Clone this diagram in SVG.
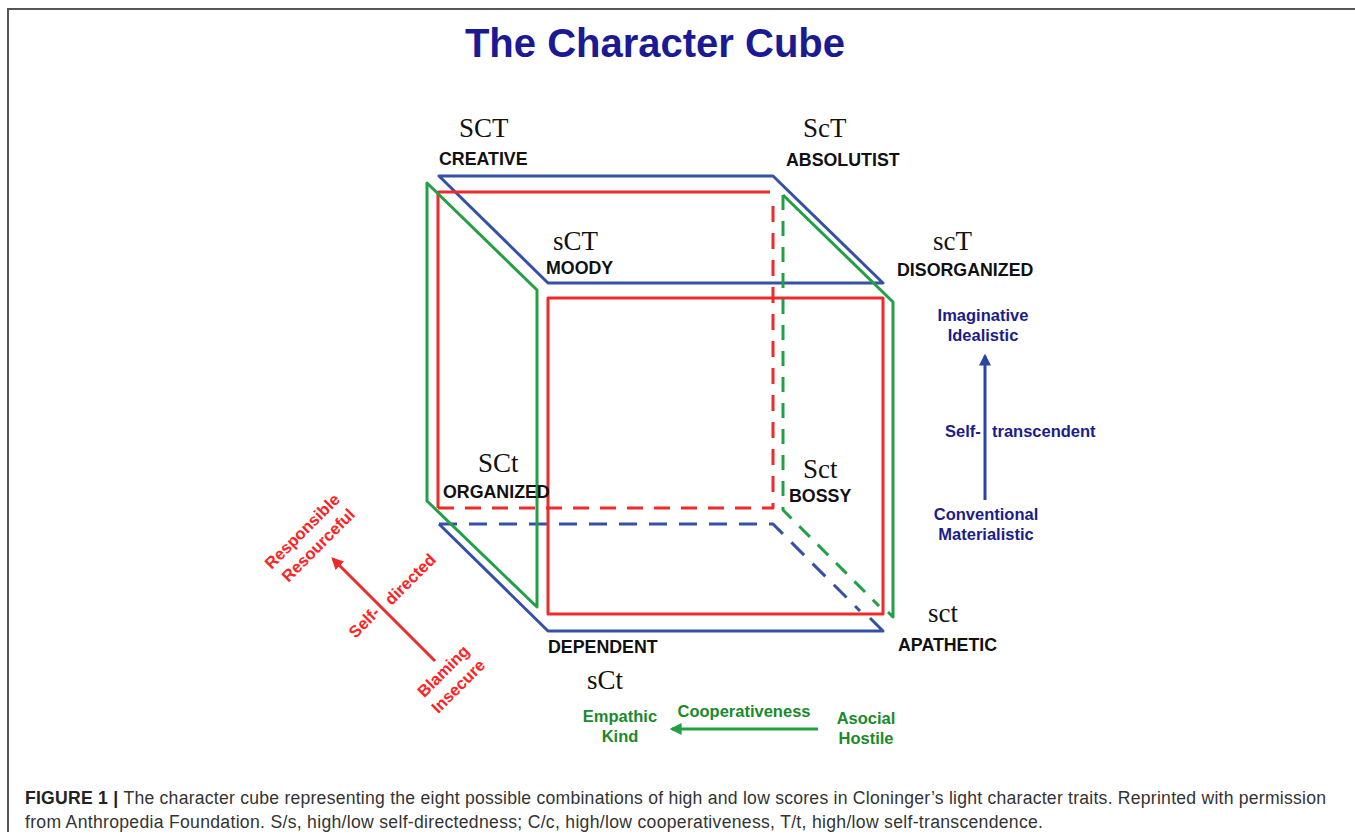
<svg xmlns="http://www.w3.org/2000/svg" width="1355" height="837" viewBox="0 0 1355 837">
<defs>
<style>
.bg{fill:#fff}
.frame{fill:none;stroke:#555;stroke-width:2}
.blue{fill:none;stroke:#3550a8;stroke-width:3;stroke-linejoin:round}
.red{fill:none;stroke:#ee2b2b;stroke-width:3;stroke-linejoin:round}
.green{fill:none;stroke:#22a045;stroke-width:3;stroke-linejoin:round}
.bd{stroke-dasharray:18 12}
.rd{stroke-dasharray:16 11}
.gd{stroke-dasharray:15 11}
.code{font-family:"Liberation Serif","Times New Roman",serif;font-size:27px;fill:#111}
.lab{font-family:"Liberation Sans",Arial,sans-serif;font-size:17.8px;font-weight:bold;fill:#111}
.t{font-family:"Liberation Sans",Arial,sans-serif;font-size:16.5px;font-weight:bold}
.nav{fill:#1c1c8c}
.grn{fill:#1a8a2c}
.rdt{fill:#ff2222}
.title{font-family:"Liberation Sans",Arial,sans-serif;font-size:40px;font-weight:bold;fill:#1a1a94}
.cap{font-family:"Liberation Sans",Arial,sans-serif;font-size:17.6px;fill:#333}
</style>
<marker id="ahR" viewBox="0 0 10 10" refX="8" refY="5" markerWidth="4" markerHeight="4" orient="auto" markerUnits="strokeWidth"><path d="M0,0 L10,5 L0,10 z" fill="#ee2b2b"/></marker>
<marker id="ahB" viewBox="0 0 10 10" refX="8" refY="5" markerWidth="4" markerHeight="4" orient="auto" markerUnits="strokeWidth"><path d="M0,0 L10,5 L0,10 z" fill="#2a45a0"/></marker>
<marker id="ahG" viewBox="0 0 10 10" refX="8" refY="5" markerWidth="4" markerHeight="4" orient="auto" markerUnits="strokeWidth"><path d="M0,0 L10,5 L0,10 z" fill="#22a045"/></marker>
</defs>
<rect class="bg" x="0" y="0" width="1355" height="837"/>
<path class="frame" d="M1355 9 H8 V832"/>
<text class="title" x="655" y="57" text-anchor="middle">The Character Cube</text>

<g id="cube">
<g id="blue-top"><polygon class="blue" points="439,176 773,176 883,283 548,283"/></g>
<g id="blue-bottom">
<path class="blue" d="M439 524 L548 631 H883 L870 618"/>
<path class="blue bd" d="M439 524 H773 L860 611"/>
</g>
<g id="red-back">
<path class="red" d="M770 192 H438 V508"/>
<path class="red rd" d="M438 508 H773 V200"/>
</g>
<g id="red-front"><rect class="red" x="548" y="298" width="335" height="316"/></g>
<g id="green-left"><polygon class="green" points="427,183 537,290 537,607 427,501"/></g>
<g id="green-right">
<path class="green" d="M783 195 L893 302 V617 L888 612"/>
<path class="green gd" d="M783 195 V510 L879 606"/>
</g>
</g>

<g id="node-SCT"><text class="code" x="459" y="137">SCT</text><text class="lab" x="439" y="165">CREATIVE</text></g>
<g id="node-ScT"><text class="code" x="803" y="137">ScT</text><text class="lab" x="786" y="166">ABSOLUTIST</text></g>
<g id="node-sCT"><text class="code" x="553" y="250">sCT</text><text class="lab" x="546" y="274">MOODY</text></g>
<g id="node-scT"><text class="code" x="933" y="250">scT</text><text class="lab" x="897" y="276">DISORGANIZED</text></g>
<g id="node-SCt"><text class="code" x="478" y="472">SCt</text><text class="lab" x="443" y="498">ORGANIZED</text></g>
<g id="node-Sct"><text class="code" x="803" y="478">Sct</text><text class="lab" x="789" y="502">BOSSY</text></g>
<g id="node-sCt"><text class="lab" x="548" y="653">DEPENDENT</text><text class="code" x="587" y="689">sCt</text></g>
<g id="node-sct"><text class="code" x="928" y="622">sct</text><text class="lab" x="898" y="651">APATHETIC</text></g>

<g id="connectors">
<line x1="985" y1="500" x2="985" y2="356" stroke="#2a45a0" stroke-width="3" marker-end="url(#ahB)"/>
<line x1="818" y1="729" x2="672" y2="729" stroke="#22a045" stroke-width="3" marker-end="url(#ahG)"/>
<line x1="435" y1="661" x2="333" y2="559" stroke="#ee2b2b" stroke-width="3" marker-end="url(#ahR)"/>
</g>

<g id="axis-T">
<text class="t nav" x="983" y="321" text-anchor="middle">Imaginative</text>
<text class="t nav" x="983" y="341" text-anchor="middle">Idealistic</text>
<text class="t nav" x="945" y="437">Self-</text>
<text class="t nav" x="992" y="437">transcendent</text>
<text class="t nav" x="986" y="520" text-anchor="middle">Conventional</text>
<text class="t nav" x="986" y="540" text-anchor="middle">Materialistic</text>
</g>

<g id="axis-C">
<text class="t grn" x="744" y="717" text-anchor="middle">Cooperativeness</text>
<text class="t grn" x="620" y="722" text-anchor="middle">Empathic</text>
<text class="t grn" x="620" y="742" text-anchor="middle">Kind</text>
<text class="t grn" x="866" y="724" text-anchor="middle">Asocial</text>
<text class="t grn" x="866" y="744" text-anchor="middle">Hostile</text>
</g>

<g id="axis-S">
<text class="t rdt" transform="translate(302,531) rotate(-45)" y="6" text-anchor="middle">Responsible</text>
<text class="t rdt" transform="translate(318,545) rotate(-45)" y="6" text-anchor="middle">Resourceful</text>
<text class="t rdt" transform="translate(364,622) rotate(-45)" y="6" text-anchor="middle">Self-</text>
<text class="t rdt" transform="translate(410,579) rotate(-45)" y="6" text-anchor="middle">directed</text>
<text class="t rdt" transform="translate(443,671) rotate(-45)" y="6" text-anchor="middle">Blaming</text>
<text class="t rdt" transform="translate(458,686) rotate(-45)" y="6" text-anchor="middle">Insecure</text>
</g>

<g id="caption">
<text class="cap" x="25" y="804" textLength="1301" lengthAdjust="spacing"><tspan font-weight="bold" fill="#222">FIGURE 1 | </tspan>The character cube representing the eight possible combinations of high and low scores in Cloninger’s light character traits. Reprinted with permission</text>
<text class="cap" x="25" y="828" textLength="1018" lengthAdjust="spacing">from Anthropedia Foundation. S/s, high/low self-directedness; C/c, high/low cooperativeness, T/t, high/low self-transcendence.</text>
</g>
</svg>
